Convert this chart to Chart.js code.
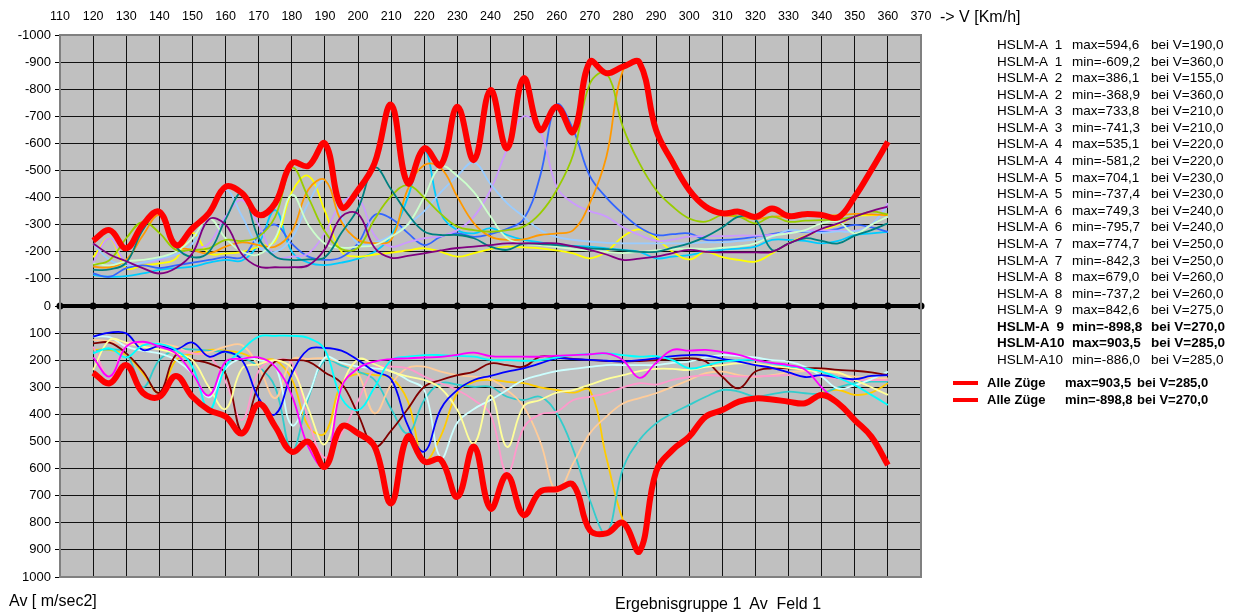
<!DOCTYPE html>
<html>
<head>
<meta charset="utf-8">
<script src="https://cdn.jsdelivr.net/npm/chart.js@4.4.0/dist/chart.umd.min.js"></script>
<style>
  html, body { margin: 0; padding: 0; background: #fff; }
  #wrap { position: relative; width: 1242px; height: 613px; overflow: hidden; }
  #myChart { position: absolute; left: 0; top: 0; }
  .txt { position: absolute; font-family: 'Liberation Sans', Arial, sans-serif; color: #000; white-space: pre; }
  .row { position: absolute; left: 0; height: 16px; line-height: 16px; font-size: 13.5px; }
  .row span { position: absolute; top: 0; }
  .swatch { position: absolute; height: 4px; background: #ff0000; }
</style>
</head>
<body>
<div id="wrap">
  <canvas id="myChart" width="1242" height="613"></canvas>
  <div id="legend"></div>
  <div class="txt" style="left:940px; top:8px; font-size:16px;">-&gt; V [Km/h]</div>
  <div class="txt" style="left:9px; top:592px; font-size:16px;">Av [ m/sec2]</div>
  <div class="txt" style="left:615px; top:595px; font-size:16px;">Ergebnisgruppe 1  Av  Feld 1</div>
</div>
<script>
// speeds in km/h
let speeds = [120, 125, 130, 135, 140, 145, 150, 155, 160, 165,
              170, 175, 180, 185, 190, 195, 200, 205, 210, 215,
              220, 225, 230, 235, 240, 245, 250, 255, 260, 265,
              270, 275, 280, 285, 290, 295, 300, 305, 310, 315,
              320, 325, 330, 335, 340, 345, 350, 355, 360];

// envelope of all trains (upper = min, lower = max)
let alleMin = [-241, -280, -213, -300, -348, -225, -287, -343, -440, -416,
               -336, -380, -527, -517, -600, -365, -428, -527, -742, -453,
               -582, -520, -735, -539, -797, -582, -840, -650, -735, -643,
               -901, -859, -883, -898, -649, -530, -428, -366, -342, -348,
               -329, -360, -332, -339, -336, -327, -403, -502, -606];
let alleMax = [246, 285, 218, 320, 335, 258, 335, 384, 408, 470,
               362, 445, 538, 501, 593, 445, 470, 519, 728, 482,
               574, 568, 704, 519, 747, 624, 771, 685, 676, 660,
               827, 839, 800, 905, 611, 531, 482, 408, 384, 353,
               341, 345, 353, 359, 328, 359, 421, 482, 587];

// single trains, min values (upper half)
let minA1 = [-231, -190, -165, -140, -120, -140, -195, -320, -300, -190,
             -145, -143, -143, -150, -210, -330, -340, -215, -178, -185,
             -194, -205, -214, -219, -225, -231, -231, -231, -231, -220,
             -207, -190, -170, -175, -182, -195, -207, -200, -198, -198,
             -198, -200, -230, -256, -285, -305, -330, -350, -367];
let minA2 = [-133, -135, -160, -280, -345, -219, -180, -200, -320, -416,
             -250, -182, -170, -172, -180, -270, -360, -510, -430, -340,
             -275, -262, -262, -250, -219, -207, -230, -228, -225, -220,
             -213, -210, -205, -200, -200, -215, -231, -256, -290, -330,
             -320, -207, -231, -250, -240, -231, -260, -280, -305];
let minA3 = [-151, -170, -250, -310, -270, -207, -207, -213, -244, -240,
             -256, -330, -510, -400, -275, -210, -215, -320, -405, -446,
             -400, -340, -293, -280, -274, -280, -293, -342, -428, -560,
             -820, -860, -660, -526, -428, -367, -323, -311, -336, -330,
             -305, -330, -311, -315, -317, -320, -330, -348, -338];
let minA4 = [-157, -150, -165, -170, -180, -200, -250, -323, -250, -200,
             -190, -250, -410, -300, -230, -215, -219, -225, -256, -300,
             -403, -514, -480, -420, -330, -250, -230, -225, -218, -210,
             -205, -200, -195, -200, -205, -210, -213, -210, -215, -220,
             -231, -258, -268, -280, -305, -311, -268, -300, -330];
let minA5 = [-145, -143, -170, -260, -336, -225, -207, -194, -219, -235,
             -225, -219, -275, -430, -465, -310, -244, -232, -244, -430,
             -520, -510, -403, -305, -256, -244, -246, -262, -268, -280,
             -380, -551, -870, -890, -640, -545, -420, -360, -336, -330,
             -320, -330, -330, -335, -335, -335, -340, -338, -335];
let minA6 = [-230, -170, -150, -160, -175, -190, -230, -330, -428, -330,
             -220, -200, -250, -380, -465, -330, -230, -235, -260, -300,
             -350, -420, -480, -530, -450, -380, -330, -280, -255, -244,
             -238, -233, -231, -231, -231, -231, -231, -235, -235, -240,
             -245, -255, -280, -275, -270, -275, -275, -300, -370];
let minA7 = [-160, -250, -160, -160, -170, -190, -207, -231, -330, -391,
             -300, -182, -182, -194, -270, -380, -400, -260, -219, -235,
             -250, -258, -280, -330, -428, -578, -700, -645, -440, -379,
             -350, -330, -290, -262, -240, -245, -256, -258, -258, -260,
             -260, -262, -270, -278, -280, -278, -278, -300, -379];
let minA8 = [-120, -108, -140, -150, -140, -150, -160, -170, -180, -180,
             -260, -300, -230, -182, -170, -180, -231, -336, -323, -270,
             -225, -256, -268, -255, -265, -285, -320, -480, -742, -650,
             -480, -400, -340, -290, -262, -265, -268, -244, -244, -248,
             -256, -265, -274, -274, -274, -285, -299, -290, -274];
let minA9 = [-180, -250, -140, -150, -157, -175, -270, -194, -194, -200,
             -219, -240, -420, -480, -350, -200, -182, -190, -197, -205,
             -213, -200, -182, -195, -210, -219, -216, -213, -205, -194,
             -176, -200, -256, -283, -250, -200, -172, -200, -180, -170,
             -164, -194, -231, -258, -280, -300, -330, -335, -336];
let minA10 = [-114, -108, -110, -120, -133, -140, -145, -160, -170, -168,
              -230, -354, -200, -160, -151, -160, -175, -200, -260, -400,
              -576, -342, -280, -268, -287, -262, -244, -235, -225, -222,
              -219, -213, -207, -200, -176, -182, -188, -200, -207, -212,
              -219, -244, -244, -240, -231, -240, -262, -268, -274];

// single trains, max values (lower half)
let maxA1 = [190, 260, 150, 132, 150, 175, 250, 330, 205, 195,
             190, 224, 330, 520, 593, 300, 230, 205, 196, 193,
             190, 188, 180, 172, 185, 187, 187, 187, 183, 181,
             178, 175, 200, 265, 210, 162, 165, 162, 170, 180,
             199, 210, 218, 235, 300, 359, 421, 482, 587];
let maxA2 = [175, 156, 190, 145, 140, 162, 224, 384, 224, 162,
             113, 110, 110, 118, 162, 340, 384, 300, 200, 187,
             181, 181, 184, 187, 199, 200, 202, 200, 190, 181,
             178, 175, 181, 187, 185, 200, 230, 220, 205, 200,
             200, 212, 222, 230, 242, 265, 292, 328, 365];
let maxA3 = [113, 98, 101, 162, 148, 160, 135, 187, 168, 200,
             340, 400, 250, 160, 155, 165, 199, 242, 270, 440,
             537, 380, 310, 273, 258, 242, 230, 212, 193, 196,
             199, 202, 205, 200, 193, 185, 181, 182, 195, 205,
             218, 228, 245, 262, 255, 265, 270, 258, 255];
let maxA4 = [236, 125, 135, 150, 160, 175, 200, 300, 380, 230,
             215, 200, 230, 380, 510, 300, 197, 215, 242, 260,
             273, 304, 384, 507, 330, 520, 370, 347, 320, 310,
             290, 270, 255, 240, 232, 232, 236, 225, 218, 212,
             214, 222, 228, 236, 242, 245, 273, 300, 328];
let maxA5 = [138, 135, 175, 240, 320, 180, 199, 212, 250, 464,
             290, 205, 200, 205, 245, 285, 400, 519, 460, 380,
             298, 273, 255, 242, 212, 218, 224, 187, 190, 195,
             200, 203, 205, 203, 200, 196, 193, 205, 261, 304,
             242, 230, 230, 230, 230, 236, 239, 245, 255];
let maxA6 = [113, 115, 150, 165, 175, 199, 250, 337, 230, 193,
             200, 220, 440, 330, 190, 210, 224, 230, 240, 273,
             310, 560, 430, 380, 347, 310, 273, 255, 240, 232,
             225, 218, 218, 218, 218, 210, 205, 190, 181, 185,
             190, 200, 205, 224, 260, 305, 292, 270, 242];
let maxA7 = [150, 261, 140, 135, 145, 160, 175, 185, 280, 420,
             240, 200, 210, 420, 560, 470, 350, 230, 224, 230,
             260, 285, 310, 347, 400, 617, 450, 400, 390, 347,
             335, 322, 300, 285, 290, 273, 262, 255, 258, 260,
             260, 258, 255, 260, 261, 268, 273, 273, 273];
let maxA8 = [125, 130, 143, 140, 138, 150, 175, 170, 150, 145,
             224, 340, 199, 195, 193, 210, 250, 396, 290, 228,
             224, 242, 255, 261, 270, 310, 371, 500, 685, 580,
             470, 408, 360, 340, 322, 298, 273, 248, 242, 255,
             261, 255, 245, 240, 235, 250, 261, 265, 267];
let maxA9 = [168, 160, 175, 300, 199, 162, 160, 165, 170, 190,
             224, 300, 532, 340, 199, 220, 242, 273, 380, 470,
             347, 285, 290, 298, 298, 335, 347, 335, 396, 531,
             716, 839, 600, 494, 433, 396, 365, 335, 310, 316,
             335, 325, 316, 322, 322, 300, 285, 279, 279];
let maxA10 = [162, 162, 181, 248, 320, 200, 175, 162, 165, 175,
              199, 200, 270, 445, 470, 285, 250, 255, 265, 350,
              570, 480, 320, 280, 273, 280, 285, 300, 310, 320,
              310, 560, 790, 900, 610, 530, 480, 408, 384, 353,
              341, 345, 350, 355, 320, 310, 328, 320, 285];

// zero line with markers
let zeroSpeeds = [110, 120, 130, 140, 150, 160, 170, 180, 190, 200, 210, 220, 230, 240,
                  250, 260, 270, 280, 290, 300, 310, 320, 330, 340, 350, 360, 370];
let zeroValues = [0, 0, 0, 0, 0, 0, 0, 0, 0, 0, 0, 0, 0, 0, 0, 0, 0, 0, 0, 0, 0, 0, 0, 0, 0, 0, 0];

// legend texts
let legendTrain = [1, 1, 2, 2, 3, 3, 4, 4, 5, 5, 6, 6, 7, 7, 8, 8, 9, 9, 10, 10];
let legendKind = ['max', 'min', 'max', 'min', 'max', 'min', 'max', 'min', 'max', 'min',
                  'max', 'min', 'max', 'min', 'max', 'min', 'max', 'min', 'max', 'min'];
let legendValue = [594.6, -609.2, 386.1, -368.9, 733.8, -741.3, 535.1, -581.2, 704.1, -737.4,
                   749.3, -795.7, 774.7, -842.3, 679.0, -737.2, 842.6, -898.8, 903.5, -886.0];
let legendSpeed = [190, 360, 155, 360, 210, 210, 220, 220, 230, 230,
                   240, 240, 250, 250, 260, 260, 275, 270, 285, 285];
let legendBold = [17, 18];
let alleKind = ['max', 'min'];
let alleValue = [903.5, -898.8];
let alleSpeed = [285, 270];

let minColors = ['#800080', '#008080', '#99CC00', '#CCFFCC', '#FF9900',
                 '#99CCFF', '#CC99FF', '#3366FF', '#FFFF00', '#00CCFF'];
let maxColors = ['#FF00FF', '#00FFFF', '#0000FF', '#FFFF99', '#800000',
                 '#CCFFFF', '#FF99CC', '#FFCC99', '#33CCCC', '#FFCC00'];

let minSeries = [minA1, minA2, minA3, minA4, minA5, minA6, minA7, minA8, minA9, minA10];
let maxSeries = [maxA1, maxA2, maxA3, maxA4, maxA5, maxA6, maxA7, maxA8, maxA9, maxA10];

function toPoints(xs, ys) {
  return xs.map((x, i) => ({ x: x, y: ys[i] }));
}
function fmt(v) {
  return v.toFixed(1).replace('.', ',');
}
function trainName(n) {
  return n < 10 ? 'HSLM-A  ' + n : 'HSLM-A' + n;
}

let datasets = [];
datasets.push({
  label: 'Alle Züge max', data: toPoints(speeds, alleMax),
  borderColor: '#FF0000', borderWidth: 6, tension: 0.4, pointRadius: 0, order: 0
});
datasets.push({
  label: 'Alle Züge min', data: toPoints(speeds, alleMin),
  borderColor: '#FF0000', borderWidth: 6, tension: 0.4, pointRadius: 0, order: 0
});
datasets.push({
  label: 'Null', data: toPoints(zeroSpeeds, zeroValues),
  borderColor: '#000', borderWidth: 4, pointRadius: 3.5, pointBackgroundColor: '#000',
  pointBorderWidth: 0, tension: 0, clip: false, order: 1
});
for (let i = 0; i < 10; i++) {
  datasets.push({
    label: trainName(i + 1) + ' min', data: toPoints(speeds, minSeries[i]),
    borderColor: minColors[i], borderWidth: 1.8, tension: 0.4, pointRadius: 0, order: 2
  });
  datasets.push({
    label: trainName(i + 1) + ' max', data: toPoints(speeds, maxSeries[i]),
    borderColor: maxColors[i], borderWidth: 1.8, tension: 0.4, pointRadius: 0, order: 2
  });
}

let plotArea = {
  id: 'plotArea',
  beforeDraw(chart) {
    let a = chart.chartArea, ctx = chart.ctx;
    ctx.save();
    ctx.fillStyle = '#C0C0C0';
    ctx.fillRect(a.left, a.top, a.right - a.left, a.bottom - a.top);
    ctx.restore();
  },
  afterDatasetsDraw(chart) {
    let a = chart.chartArea, ctx = chart.ctx;
    ctx.save();
    ctx.strokeStyle = '#808080';
    ctx.lineWidth = 2;
    ctx.strokeRect(a.left, a.top, a.right - a.left, a.bottom - a.top);
    ctx.restore();
  }
};

let tickFont = { family: "'Liberation Sans', Arial, sans-serif", size: 12.5 };

let ctx = document.getElementById('myChart').getContext('2d');
let chart = new Chart(ctx, {
  type: 'line',
  data: { datasets: datasets },
  options: {
    responsive: false,
    animation: false,
    events: [],
    layout: { padding: { left: 0, right: 321, top: 0, bottom: 36 } },
    plugins: { legend: { display: false }, tooltip: { enabled: false } },
    scales: {
      x: {
        type: 'linear', position: 'top', min: 110, max: 370,
        ticks: { stepSize: 10, autoSkip: false, maxRotation: 0, color: '#000', padding: 11,
                 font: tickFont, callback: v => String(v) },
        grid: { color: '#111', lineWidth: 1, drawTicks: false },
        border: { display: false },
        afterFit: s => { s.height = 35; }
      },
      y: {
        type: 'linear', reverse: true, min: -1000, max: 1000,
        ticks: { stepSize: 100, autoSkip: false, color: '#000', padding: 4,
                 font: { family: "'Liberation Sans', Arial, sans-serif", size: 13 },
                 callback: v => String(v) },
        grid: { color: '#111', lineWidth: 1, tickColor: '#000', tickLength: 5 },
        border: { display: true, color: '#000', width: 1 },
        afterFit: s => { s.width = 60; }
      }
    }
  },
  plugins: [plotArea]
});

// legend as html text
let legendBox = document.getElementById('legend');
for (let i = 0; i < legendTrain.length; i++) {
  let row = document.createElement('div');
  row.className = 'txt row';
  row.style.top = (37 + i * 16.58) + 'px';
  if (legendBold.indexOf(i) >= 0) row.style.fontWeight = 'bold';
  row.innerHTML = '<span style="left:997px">' + trainName(legendTrain[i]) + '</span>' +
    '<span style="left:1072px">' + legendKind[i] + '=' + fmt(legendValue[i]) + '</span>' +
    '<span style="left:1151px">bei V=' + fmt(legendSpeed[i]) + '</span>';
  legendBox.appendChild(row);
}
for (let j = 0; j < alleKind.length; j++) {
  let cy = 383 + j * 17;
  let sw = document.createElement('div');
  sw.className = 'swatch';
  sw.style.left = '953px'; sw.style.width = '25px'; sw.style.top = (cy - 2) + 'px';
  legendBox.appendChild(sw);
  let row = document.createElement('div');
  row.className = 'txt row';
  row.style.top = (cy - 8) + 'px';
  row.style.fontWeight = 'bold';
  row.style.fontSize = '13px';
  row.innerHTML = '<span style="left:987px">Alle Züge</span>' +
    '<span style="left:1065px">' + alleKind[j] + '=' + fmt(alleValue[j]) + '</span>' +
    '<span style="left:1137px">bei V=' + fmt(alleSpeed[j]) + '</span>';
  legendBox.appendChild(row);
}
</script>
</body>
</html>
